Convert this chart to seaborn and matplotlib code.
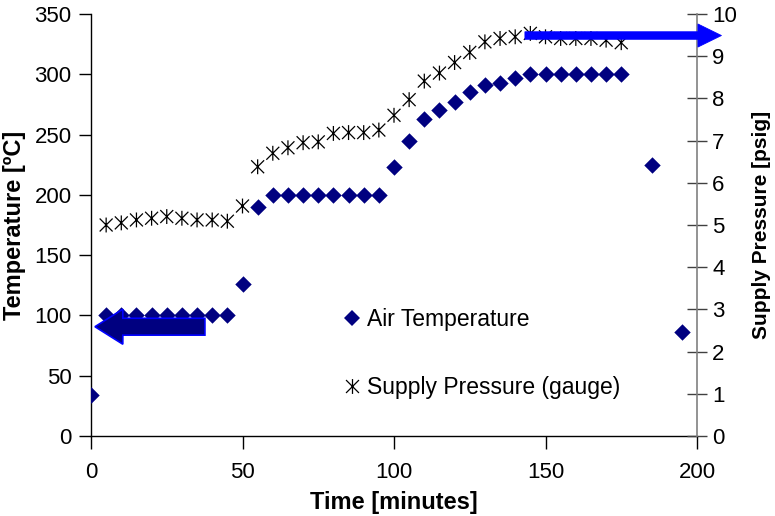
import matplotlib
matplotlib.use("Agg")
import matplotlib.pyplot as plt
from matplotlib.path import Path
from matplotlib.lines import Line2D
from matplotlib.patches import FancyArrow
import seaborn as sns

# Air temperature readings (°C) against elapsed time (minutes)
time_min = [0, 5, 10, 15, 20, 25, 30, 35, 40, 45, 50, 55, 60, 65, 70, 75, 80, 85,
            90, 95, 100, 105, 110, 115, 120, 125, 130, 135, 140, 145, 150, 155,
            160, 165, 170, 175, 185, 195]
air_temp_c = [34, 100, 100, 100, 100, 100, 100, 100, 100, 100, 126, 190, 200, 200,
              200, 200, 200, 200, 200, 200, 223, 245, 263, 270, 277, 285, 291, 293,
              297, 300, 300, 300, 300, 300, 300, 300, 225, 86]

# Supply pressure (psig, gauge) against elapsed time (minutes)
pressure_time_min = [5, 10, 15, 20, 25, 30, 35, 40, 45, 50, 55, 60, 65, 70, 75, 80,
                     85, 90, 95, 100, 105, 110, 115, 120, 125, 130, 135, 140, 145,
                     150, 155, 160, 165, 170, 175]
supply_pressure_psig = [5.00, 5.05, 5.12, 5.16, 5.20, 5.16, 5.12, 5.12, 5.09, 5.45,
                        6.38, 6.70, 6.83, 6.95, 6.97, 7.17, 7.19, 7.19, 7.25, 7.60,
                        7.97, 8.41, 8.60, 8.85, 9.09, 9.34, 9.42, 9.46, 9.54, 9.46,
                        9.42, 9.42, 9.42, 9.38, 9.32]

temp_ticks = [0, 50, 100, 150, 200, 250, 300, 350]
pressure_ticks = list(range(0, 11))
time_ticks = [0, 50, 100, 150, 200]

NAVY = "#000080"
BLUE = "#0000ff"

sns.set_theme(style="ticks")
plt.rcParams["font.family"] = ["Liberation Sans", "DejaVu Sans"]
plt.rcParams["text.color"] = "black"

fig = plt.figure(figsize=(7.75, 5.16), dpi=100)
ax = fig.add_axes([91 / 775, 80 / 516, 606 / 775, 422 / 516])
ax2 = ax.twinx()

# asterisk marker: an X with a vertical stroke through it
asterisk = Path([(-1, -1), (1, 1), (-1, 1), (1, -1), (0, -1.15), (0, 1.15)],
                [Path.MOVETO, Path.LINETO] * 3)

sns.scatterplot(x=time_min, y=air_temp_c, ax=ax, marker="D", s=70,
                color=NAVY, edgecolor=NAVY, linewidth=0, zorder=3)
sns.scatterplot(x=pressure_time_min, y=supply_pressure_psig, ax=ax2,
                marker=asterisk, s=115, color="black", facecolor="none",
                edgecolor="black", linewidth=0.9, zorder=3)

ax.set_xlim(0, 200)
ax.set_ylim(0, 350)
ax2.set_ylim(0, 10)
ax.set_xticks(time_ticks)
ax.set_yticks(temp_ticks)
ax2.set_yticks(pressure_ticks)

for s in ["top", "right"]:
    ax.spines[s].set_visible(False)
for s in ["top", "left", "bottom"]:
    ax2.spines[s].set_visible(False)
ax.spines["left"].set_color("black")
ax.spines["bottom"].set_color("black")
ax.spines["left"].set_linewidth(1)
ax.spines["bottom"].set_linewidth(1)
ax2.spines["right"].set_color("#808080")
ax2.spines["right"].set_linewidth(1.2)

ax.tick_params(axis="y", direction="out", length=9, width=1, color="black",
               labelsize=16, labelcolor="black", pad=5)
ax.tick_params(axis="x", direction="out", length=9, width=1, color="black",
               labelsize=16, labelcolor="black", pad=10)
ax2.tick_params(axis="y", direction="inout", length=14, width=1, color="#404040",
                labelsize=16, labelcolor="black", pad=4)

ax.set_xlabel("Time [minutes]", fontsize=17, fontweight="bold", color="black")
ax.set_ylabel("Temperature [ºC]", fontsize=17, fontweight="bold", color="black")
ax2.set_ylabel("Supply Pressure [psig]", fontsize=15, fontweight="bold", color="black")
ax.xaxis.set_label_coords(0.5, -0.13)
ax.yaxis.set_label_coords(-0.108, 0.5)
ax2.yaxis.set_label_coords(1.091, 0.5)

# arrows pointing each series to its own axis
ax2.add_patch(FancyArrow(37.6, 2.59, -36.3, 0, width=0.40, head_width=0.83,
                         head_length=9.2, length_includes_head=True,
                         fc=NAVY, ec=BLUE, lw=1.2, zorder=6, clip_on=False))
ax2.add_patch(FancyArrow(143.2, 9.49, 64.9, 0, width=0.18, head_width=0.55,
                         head_length=7.8, length_includes_head=True,
                         fc=BLUE, ec=BLUE, lw=0.5, zorder=6, clip_on=False))

handles = [
    Line2D([], [], marker="D", linestyle="none", color=NAVY, markersize=8.4,
           markeredgewidth=0),
    Line2D([], [], marker=asterisk, linestyle="none", color="black",
           markerfacecolor="none", markersize=10.7, markeredgewidth=0.9),
]
leg = ax2.legend(handles, ["Air Temperature", "Supply Pressure (gauge)"],
                 loc="center left", bbox_to_anchor=(344 / 775, 0.315),
                 bbox_transform=fig.transFigure, frameon=False, fontsize=16.5,
                 handlelength=0.73, handletextpad=0.27, labelspacing=2.0,
                 borderpad=0, borderaxespad=0, labelcolor="black")

fig.savefig("out.png", dpi=100)
